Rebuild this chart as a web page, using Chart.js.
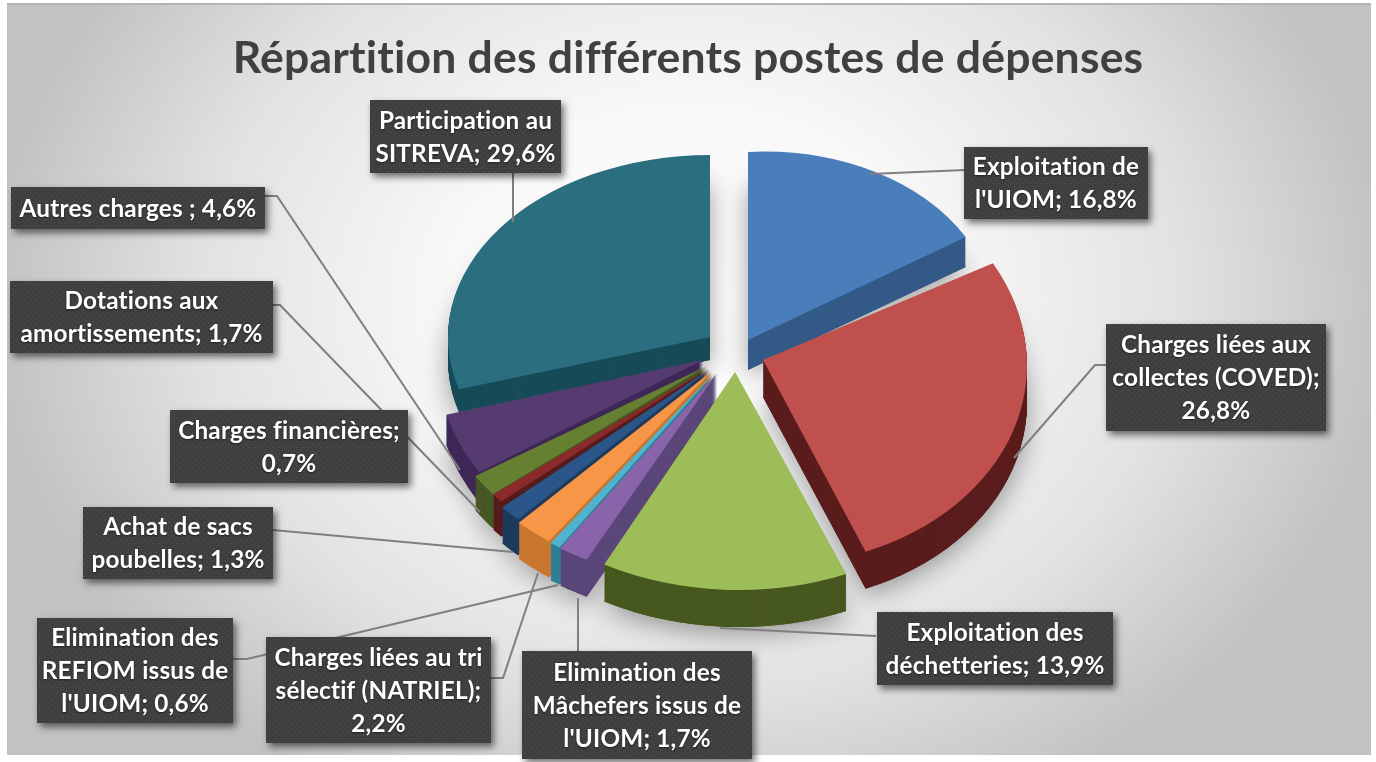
<!DOCTYPE html>
<html lang="fr">
<head>
<meta charset="utf-8">
<title>Répartition des différents postes de dépenses</title>
<style>
html,body{margin:0;padding:0;background:#fff;overflow:hidden}
canvas{display:block}
</style>
<script src="https://cdn.jsdelivr.net/npm/chart.js@4/dist/chart.umd.min.js"></script>
</head>
<body>
<canvas id="c" width="1376" height="762"></canvas>
<script>
// ---- data ----
const titleText = "Répartition des différents postes de dépenses";
const categories = ["Exploitation de l'UIOM","Charges liées aux collectes (COVED)","Exploitation des déchetteries","Elimination des Mâchefers issus de l'UIOM","Elimination des REFIOM issus de l'UIOM","Charges liées au tri sélectif (NATRIEL)","Achat de sacs poubelles","Charges financières","Dotations aux amortissements","Autres charges ","Participation au SITREVA"];
const values = [16.8,26.8,13.9,1.7,0.6,2.2,1.3,0.7,1.7,4.6,29.6];
const labelLines = [
  ["Exploitation de","l'UIOM; 16,8%"],
  ["Charges liées aux","collectes (COVED);","26,8%"],
  ["Exploitation des","déchetteries; 13,9%"],
  ["Elimination des","Mâchefers issus de","l'UIOM; 1,7%"],
  ["Elimination des","REFIOM issus de","l'UIOM; 0,6%"],
  ["Charges liées au tri","sélectif (NATRIEL);","2,2%"],
  ["Achat de sacs","poubelles; 1,3%"],
  ["Charges financières;","0,7%"],
  ["Dotations aux","amortissements; 1,7%"],
  ["Autres charges ; 4,6%"],
  ["Participation au","SITREVA; 29,6%"]
];

// ---- styles ----
const topColors  = ["#4a7ebb","#c0504d","#9dbd58","#8a64aa","#4fb3cf","#f79646","#2a5689","#8a2a2a","#648030","#553b70","#2a6e80"];
const wallColors = ["#345a88","#5a1c1c","#47581f","#5a4678","#2f7f95","#c8772e","#1e3a5c","#561c1c","#465723","#3f2858","#174b58"];

// projection of each exploded slice onto the tilted view
const sliceApexX = [748,763,735,717,715,712,710,709,707,703,710];
const sliceApexY = [340,360,372,373,372,371,369,368,366,360,337];
const sliceRx    = [250,264,286,285,283,281,279,279,277,268,262];
const sliceRy    = [188,206,218,210,210,209,207,205,209,216,182];
const sliceSkew  = [-0.048,0.02,0.01,0,0,0,0,0.016,0.02,0.028,0];
const sliceDepth = [30,37,37,37,37,36,36,35,34,30,23];

// label boxes: left, top, right, bottom
const boxLeft   = [964,1106,877,522,37,266,83,170,10,11,370];
const boxTop    = [147,324,612,651,618,637,507,410,281,187,100];
const boxRight  = [1148,1326,1113,752,233,491,273,408,273,265,561];
const boxBottom = [219,431,685,759,723,743,579,483,353,229,173];
const leaderPaths = [
  [[965,170],[870,174]],
  [[1106,365],[1095,365],[1014,458]],
  [[876,636],[720,628]],
  [[578,654],[578,598]],
  [[233,659],[247,659],[558,585]],
  [[491,678],[503,678],[538,573]],
  [[273,530],[513,552]],
  [],
  [[273,305],[280,305],[480,512]],
  [[265,196],[277,196],[460,470]],
  [[513,173],[513,222]]
];

const FONT = "Lato, Carlito, 'Open Sans', sans-serif";

function dotPattern(ctx){
  const t = document.createElement('canvas');
  t.width = 6; t.height = 6;
  const p = t.getContext('2d');
  p.fillStyle = '#3f3f3f'; p.fillRect(0,0,6,6);
  p.fillStyle = '#525252';
  p.fillRect(0,0,1,1); p.fillRect(3,3,1,1);
  return ctx.createPattern(t,'repeat');
}

const plainOptions = c => ({backgroundColor:c,borderColor:c,borderWidth:0,offset:0,spacing:0,borderRadius:0,circular:true,borderAlign:'center'});

function stamp(ctx, arc, i, yShift, color){
  const R = arc.outerRadius;
  const a = sliceRx[i]/R, d = sliceRy[i]/R;
  ctx.save();
  ctx.translate(sliceApexX[i], sliceApexY[i] + yShift);
  ctx.transform(a, sliceSkew[i]*a, 0, d, 0, 0);
  ctx.translate(-arc.x, -arc.y);
  const keep = arc.options;
  arc.options = plainOptions(color);
  arc.draw(ctx);
  arc.options = keep;
  ctx.restore();
}

const backdrop = {
  id:'backdrop',
  beforeDraw(chart){
    const ctx = chart.ctx;
    ctx.letterSpacing = '0.2px'; // keeps "ti" as two separate letters
    ctx.save();
    ctx.fillStyle = '#fff';
    ctx.fillRect(0,0,chart.width,chart.height);
    ctx.beginPath(); ctx.rect(7,3,1364,752); ctx.clip();
    ctx.translate(690,300);
    ctx.scale(1,0.8);
    const g = ctx.createRadialGradient(0,0,0,0,0,700);
    g.addColorStop(0,'#ffffff');
    g.addColorStop(0.35,'#f8f8f8');
    g.addColorStop(0.7,'#e2e2e2');
    g.addColorStop(1,'#c2c2c2');
    ctx.fillStyle = g;
    ctx.fillRect(-800,-500,1600,1200);
    ctx.restore();
    ctx.fillStyle = '#b4b4b4';
    ctx.fillRect(7,3,1364,2);
  }
};

const pie3d = {
  id:'pie3d',
  beforeDatasetDraw(chart,args){
    const ctx = chart.ctx;
    const arcs = chart.getDatasetMeta(args.index).data;
    // soft shadow first, so it never darkens a neighbouring slice
    ctx.save();
    ctx.shadowColor = 'rgba(0,0,0,0.38)';
    ctx.shadowBlur = 26;
    ctx.shadowOffsetY = 6;
    arcs.forEach((arc,i)=>stamp(ctx,arc,i,sliceDepth[i],wallColors[i]));
    ctx.restore();
    // back slices, then the fan from left to right, then the front ones
    const order = [10,0,9,8,7,6,5,4,3,2,1];
    order.forEach(i=>{
      for(let y=sliceDepth[i]; y>0; y--) stamp(ctx,arcs[i],i,y,wallColors[i]);
      stamp(ctx,arcs[i],i,0,topColors[i]);
    });
    return false;
  },
  afterDraw(chart){
    const ctx = chart.ctx;
    ctx.save();
    ctx.strokeStyle = '#7f7f7f';
    ctx.lineWidth = 2;
    leaderPaths.forEach(p=>{
      if(!p.length) return;
      ctx.beginPath();
      p.forEach((q,k)=> k? ctx.lineTo(q[0],q[1]) : ctx.moveTo(q[0],q[1]));
      ctx.stroke();
    });
    const pat = dotPattern(ctx);
    labelLines.forEach((lines,i)=>{
      const x=boxLeft[i], y=boxTop[i], w=boxRight[i]-x, h=boxBottom[i]-y;
      ctx.save();
      ctx.shadowColor='rgba(0,0,0,0.55)'; ctx.shadowBlur=7; ctx.shadowOffsetX=3; ctx.shadowOffsetY=4;
      ctx.fillStyle='#404040';
      ctx.fillRect(x,y,w,h);
      ctx.restore();
      ctx.fillStyle=pat;
      ctx.fillRect(x,y,w,h);
      ctx.save();
      ctx.font = "bold 24.3px "+FONT;
      ctx.textAlign='center'; ctx.textBaseline='middle';
      ctx.fillStyle='#ffffff';
      ctx.shadowColor='rgba(0,0,0,0.5)'; ctx.shadowBlur=2; ctx.shadowOffsetY=1;
      const step=33, cx=x+w/2, cy=y+h/2+1;
      lines.forEach((t,k)=>ctx.fillText(t,cx,cy+(k-(lines.length-1)/2)*step));
      ctx.restore();
    });
    ctx.restore();
  }
};

new Chart(document.getElementById('c'),{
  type:'pie',
  data:{labels:categories,datasets:[{data:values,backgroundColor:topColors,borderWidth:0}]},
  plugins:[backdrop,pie3d],
  options:{
    responsive:false,
    animation:false,
    layout:{padding:{top:32,bottom:10}},
    plugins:{
      legend:{display:false},
      tooltip:{enabled:false},
      title:{display:true,text:titleText,color:'#404040',font:{family:FONT,size:44.5,weight:'bold'},padding:{top:0,bottom:10}}
    }
  }
});
</script>
</body>
</html>
